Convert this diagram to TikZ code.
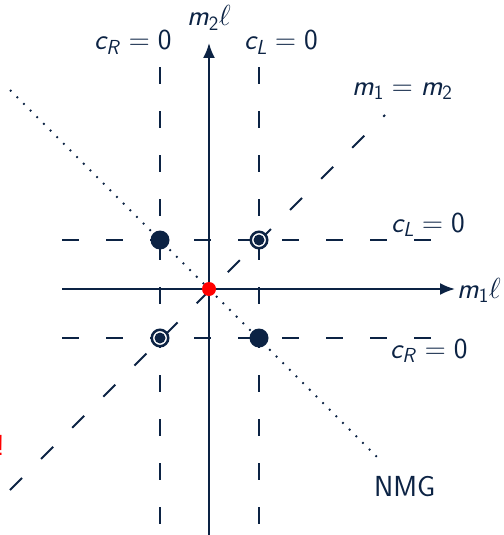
\RequirePackage{fix-cm}
\documentclass[tikz,border=0pt]{standalone}
\usetikzlibrary{arrows.meta}
\DeclareMathAlphabet{\mathsfit}{OT1}{cmss}{m}{sl}
\definecolor{navy}{RGB}{12,35,68}
\newcommand\lblfont{\fontsize{29}{34}\selectfont\sffamily}
\begin{document}
\begin{tikzpicture}[x=1pt,y=-1pt,
  lbl/.style={text=navy, inner sep=0pt, anchor=base west, font=\lblfont},
  axisln/.style={draw=navy, line width=2pt, -{Latex[length=15pt,width=12pt]}},
  dashln/.style={draw=navy, line width=2pt, dash pattern=on 17pt off 27pt},
  dotln/.style={draw=navy, line width=1.8pt, dash pattern=on 1.8pt off 7.6pt},
  fdot/.style={circle, fill=navy, minimum size=19pt, inner sep=0pt},
  odot/.style={circle, draw=navy, fill=white, line width=2.5pt, minimum size=16.5pt, inner sep=0pt,
    path picture={\fill[navy] (path picture bounding box.center) circle (5.5pt);}},
  rdot/.style={circle, fill=red, minimum size=14pt, inner sep=0pt}
]
\useasboundingbox (0,0) rectangle (503,535);
% coordinates
\coordinate (xs) at (62,289);
\coordinate (xe) at (455,289);
\coordinate (ys) at (209,535);
\coordinate (ye) at (209,43);
\coordinate (vRt) at (160,67);
\coordinate (vRb) at (160,535);
\coordinate (vLt) at (259,67);
\coordinate (vLb) at (259,535);
\coordinate (hLs) at (62,240);
\coordinate (hLe) at (440,240);
\coordinate (hRs) at (62,338);
\coordinate (hRe) at (440,338);
\coordinate (dgs) at (10,490);
\coordinate (dge) at (385,115);
\coordinate (nms) at (10,90);
\coordinate (nme) at (380,460);
% lines
\draw[dashln] (vRt) -- (vRb);
\draw[dashln] (vLt) -- (vLb);
\draw[dashln] (hLs) -- (hLe);
\draw[dashln] (hRs) -- (hRe);
\draw[dashln] (dgs) -- (dge);
\draw[dotln] (nms) -- (nme);
\draw[axisln] (xs) -- (xe);
\draw[axisln] (ys) -- (ye);
% dots
\node[fdot] (p1) at (160,240) {};
\node[fdot] (p2) at (259,338) {};
\node[odot] (q1) at (259,240) {};
\node[odot] (q2) at (160,338) {};
\node[rdot] (o) at (209,289) {};
% labels
\node[lbl] (l1) at (187,26) {$\mathsfit{m}_{\mathsf{2}}\ell$};
\node[lbl] (l2) at (94,50) {$\mathsfit{c}_{\mathsfit{R}}=\mathsf{0}$};
\node[lbl] (l3) at (244,50) {$\mathsfit{c}_{\mathsfit{L}}=\mathsf{0}$};
\node[lbl] (l4) at (352,95) {$\mathsfit{m}_{\mathsf{1}}=\mathsfit{m}_{\mathsf{2}}$};
\node[lbl] (l5) at (391,232) {$\mathsfit{c}_{\mathsfit{L}}=\mathsf{0}$};
\node[lbl] (l6) at (457,298) {$\mathsfit{m}_{\mathsf{1}}\ell$};
\node[lbl] (l7) at (390,358) {$\mathsfit{c}_{\mathsfit{R}}=\mathsf{0}$};
\node[lbl] (l8) at (374,496) {NMG};
\node[lbl, text=red] (ex) at (-4,455) {!};
\end{tikzpicture}
\end{document}
